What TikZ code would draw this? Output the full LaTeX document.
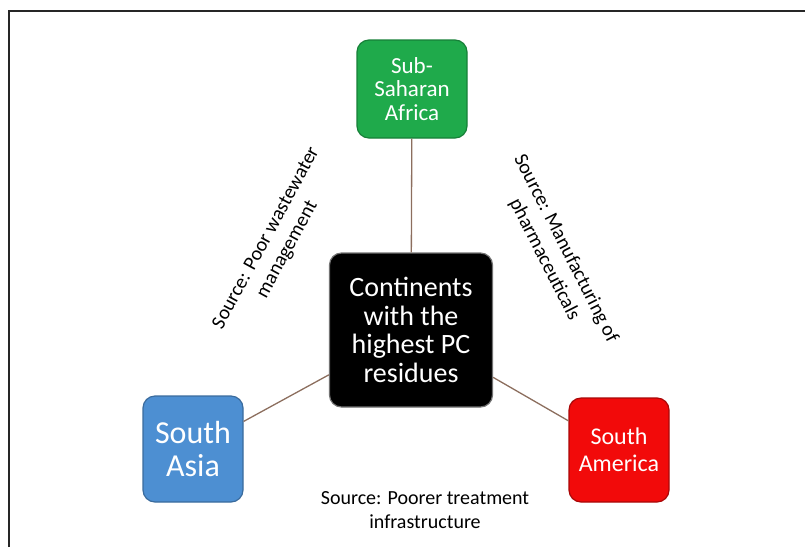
\documentclass[tikz,border=0pt]{standalone}
\usepackage{fontspec}
\setmainfont{Carlito}
\definecolor{boxgreen}{HTML}{1FAA4B}
\definecolor{boxblue}{HTML}{4D8FD2}
\definecolor{boxred}{HTML}{F20A0A}
\definecolor{linkbrown}{HTML}{8C6E5E}
\begin{document}
\begin{tikzpicture}[x=1pt,y=-1pt,
   box/.style={rounded corners=12pt,line width=1.2pt,text=white,align=center,inner sep=0pt},
   link/.style={draw=linkbrown,line width=1.3pt},
   src/.style={align=center,font={\fontsize{20}{24}\selectfont}}]
   \useasboundingbox (0,0) rectangle (805,547);
   % 枠
   \draw[line width=2.2pt,black!85] (9,547) -- (9,11) -- (805,11);

   % 箱
   \node[box,fill=black,draw=black!55,minimum width=163pt,minimum height=154pt,
      font={\fontsize{28}{28.5}\selectfont}] (pc) at (411,330) {Continents\\with the\\highest PC\\residues};
   \node[box,fill=boxgreen,draw=boxgreen!75!black,minimum width=110pt,minimum height=98pt,
      font={\fontsize{23}{23.5}\selectfont}] (africa) at (412,89) {Sub-\\Saharan\\Africa};
   \node[box,fill=boxblue,draw=boxblue!75!black,minimum width=100pt,minimum height=106pt,
      font={\fontsize{32}{33}\selectfont}] (asia) at (193,449) {South\\Asia};
   \node[box,fill=boxred,draw=boxred!70!black,minimum width=100pt,minimum height=104pt,
      font={\fontsize{24}{27}\selectfont}] (america) at (619,450) {South\\America};

   % 線
   \draw[link] (pc) -- (africa);
   \draw[link] (pc) -- (asia);
   \draw[link] (pc) -- (america);

   % ラベル
   \node[src,rotate=61.5] (waste) at (277,244) {Source: Poor wastewater\\management};
   \node[src,rotate=-63] (pharma) at (555,254) {Source: Manufacturing of\\pharmaceuticals};
   \node[src] (treat) at (425,510) {Source: Poorer treatment\\infrastructure};
\end{tikzpicture}
\end{document}
